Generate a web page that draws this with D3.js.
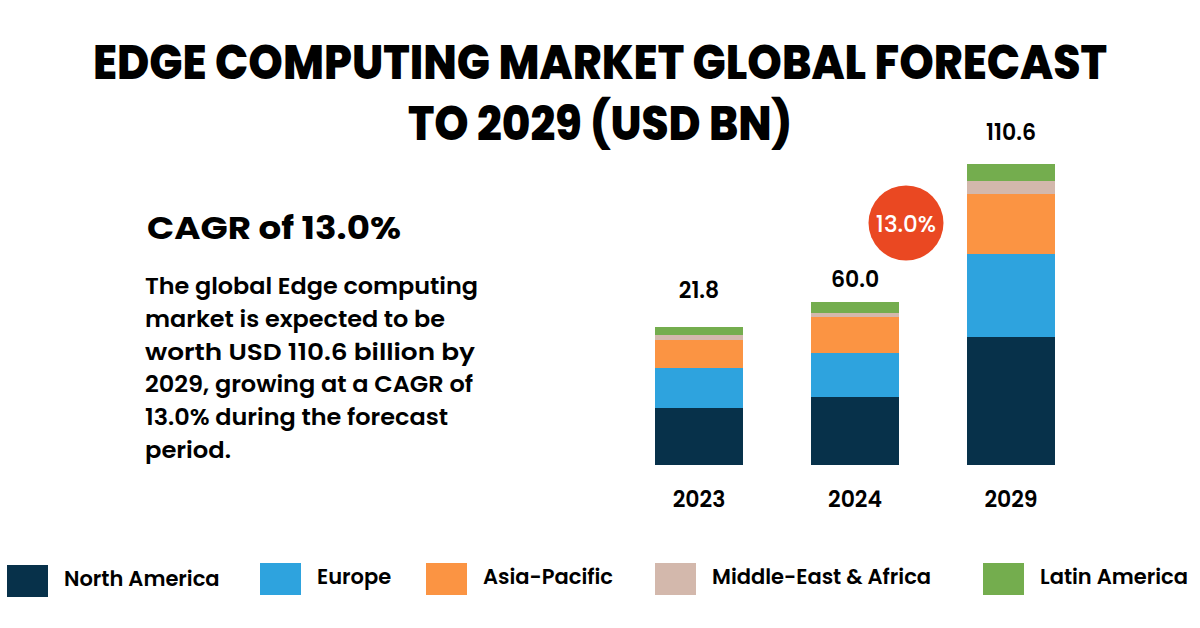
<!DOCTYPE html>
<html>
<head>
<meta charset="utf-8">
<script src="https://cdn.jsdelivr.net/npm/d3@7"></script>
<style>
html,body{margin:0;padding:0;background:#fff;}
svg{display:block;font-family:Poppins,Inter,"Noto Sans",sans-serif;}
</style>
</head>
<body>
<svg id="chart" width="1200" height="628"></svg>
<script>
// ---- data ----
const years = ["2023", "2024", "2029"];
const totalLabels = ["21.8", "60.0", "110.6"];
const regions = ["North America", "Europe", "Asia-Pacific", "Middle-East & Africa", "Latin America"];
// segment sizes as drawn in the picture (relative bar units, stacked bottom to top)
const northAmerica = [57, 68, 128];
const europe       = [40, 44, 83];
const asiaPacific  = [28, 36, 60];
const middleEast   = [5, 4, 13];
const latinAmerica = [8, 11, 17];
const regionColors = ["#07314A", "#2EA3DE", "#FB9443", "#D3B8AC", "#74AD4E"];
const titleLines = ["EDGE COMPUTING MARKET GLOBAL FORECAST", "TO 2029 (USD BN)"];
const cagrHeading = "CAGR of 13.0%";
const cagrBadge = "13.0%";
const paragraph = [
  "The global Edge computing",
  "market is expected to be",
  "worth USD 110.6 billion by",
  "2029, growing at a CAGR of",
  "13.0% during the forecast",
  "period."
];

const series = [northAmerica, europe, asiaPacific, middleEast, latinAmerica];
const table = years.map((y, i) => {
  const row = {year: y, label: totalLabels[i]};
  regions.forEach((r, k) => row[r] = series[k][i]);
  return row;
});

const svg = d3.select("#chart");

// ---- title ----
const titleY = [79, 140];
const titleW = [1014, 384];
svg.append("g").selectAll("text").data(titleLines).join("text")
  .attr("x", 600).attr("y", (d, i) => titleY[i])
  .attr("text-anchor", "middle")
  .attr("font-size", 47).attr("font-weight", 800).attr("fill", "#000")
  .attr("textLength", (d, i) => titleW[i]).attr("lengthAdjust", "spacingAndGlyphs")
  .text(d => d);

// ---- left text ----
svg.append("text").attr("x", 147).attr("y", 239)
  .attr("font-size", 31).attr("font-weight", 700).attr("fill", "#000")
  .attr("textLength", 254).attr("lengthAdjust", "spacingAndGlyphs")
  .text(cagrHeading);

const paraW = [333, 300, 330, 328, 303, 86];
svg.append("g").selectAll("text").data(paragraph).join("text")
  .attr("x", 145).attr("y", (d, i) => 294 + i * 32.8)
  .attr("font-size", 22.5).attr("font-weight", 600).attr("fill", "#000")
  .text(d => d)
  .each(function(d, i) {
    const w = this.getComputedTextLength();
    if (Math.abs(w - paraW[i]) > 2) d3.select(this).attr("textLength", paraW[i]).attr("lengthAdjust", "spacingAndGlyphs");
  });

// ---- bars ----
const x = d3.scaleBand().domain(years).range([655, 1055]).paddingInner(0.436).paddingOuter(0);
const maxTotal = d3.max(table, d => d3.sum(regions, r => d[r]));
const y = d3.scaleLinear().domain([0, maxTotal]).range([465, 164]);
const stack = d3.stack().keys(regions)(table);
const color = d3.scaleOrdinal().domain(regions).range(regionColors);

svg.append("g").selectAll("g").data(stack).join("g")
  .attr("fill", d => color(d.key))
  .selectAll("rect").data(d => d).join("rect")
  .attr("x", d => x(d.data.year))
  .attr("width", x.bandwidth())
  .attr("y", d => y(d[1]))
  .attr("height", d => y(d[0]) - y(d[1]));

// total labels
const labelGap = [29, 15, 24];
svg.append("g").selectAll("text").data(table).join("text")
  .attr("x", d => x(d.year) + x.bandwidth() / 2)
  .attr("y", (d, i) => y(d3.sum(regions, r => d[r])) - labelGap[i])
  .attr("text-anchor", "middle")
  .attr("font-size", 22).attr("font-weight", 600).attr("fill", "#000")
  .text(d => d.label);

// x axis labels
const xAxis = svg.append("g").attr("transform", "translate(0,480)")
  .call(d3.axisBottom(x).tickSize(0).tickPadding(0));
xAxis.select(".domain").remove();
xAxis.selectAll("text")
  .attr("dy", null).attr("y", 27)
  .attr("font-family", "Poppins,Inter,'Noto Sans',sans-serif")
  .attr("font-size", 22).attr("font-weight", 600).attr("fill", "#000");

// CAGR badge
svg.append("circle").attr("cx", 906).attr("cy", 223).attr("r", 37.5).attr("fill", "#EA4822");
svg.append("text").attr("x", 906).attr("y", 232)
  .attr("text-anchor", "middle").attr("font-size", 23).attr("font-weight", 500).attr("fill", "#fff")
  .text(cagrBadge);

// ---- legend ----
const legendX = [7, 260, 426, 655, 983];
const legend = svg.append("g").selectAll("g").data(regions).join("g")
  .attr("transform", (d, i) => `translate(${legendX[i]},0)`);
legend.append("rect").attr("x", 0).attr("y", (d, i) => i === 0 ? 565 : 563)
  .attr("width", 41).attr("height", 32).attr("fill", d => color(d));
legend.append("text").attr("x", 57).attr("y", (d, i) => i === 0 ? 586 : 584)
  .attr("font-size", 21).attr("font-weight", 600).attr("fill", "#000")
  .text(d => d);
</script>
</body>
</html>
